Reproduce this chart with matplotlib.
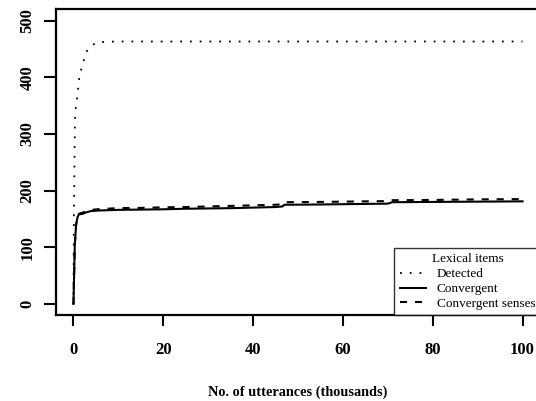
import matplotlib
matplotlib.use("Agg")
import matplotlib.pyplot as plt

plt.rcParams['font.family'] = ['Liberation Serif', 'DejaVu Serif']

# Detected lexical items (x in thousands of utterances)
det_x = [0, 0.05, 0.1, 0.2, 0.33, 0.5, 0.85, 1.3, 2.05, 3.1, 4.0, 5.2, 7, 9.6, 20, 40, 60, 80, 100]
det_y = [0, 90, 160, 230, 325, 345, 366, 400, 424, 448, 456, 461, 462.5, 463, 463, 463, 463, 463, 463]

# Convergent items / convergent senses
conv_x = [0, 0.3, 0.6, 0.9, 1.2, 2, 3, 4, 6, 10, 15, 20, 25, 30, 35, 40, 45, 46.5, 47,
          55, 60, 65, 70, 71, 80, 90, 100]
conv_y = [0, 105, 140, 153, 158, 159, 162, 164, 165, 166, 166.5, 167, 168, 168.5, 169, 170, 171, 172, 175,
          175.5, 176, 176.5, 177, 179.5, 180, 180.5, 181]
senses_y = [0, 105, 141, 154, 159, 161, 164, 166, 167.5, 169, 169.5, 170.5, 171, 172, 173, 174, 175, 176, 179.5,
            180, 180.5, 181, 181.5, 183, 183.5, 184.5, 185]

xticks = [0, 20, 40, 60, 80, 100]
yticks = [0, 100, 200, 300, 400, 500]

fig = plt.figure(figsize=(5.36, 4.01), dpi=100)
ax = fig.add_axes([55.5 / 536, 85.7 / 401, 485 / 536, 306.1 / 401])

ax.plot(det_x, det_y, color='black', lw=1.3, linestyle=(0, (1, 4.4)), label='Detected')
ax.plot(conv_x, conv_y, color='black', lw=1.5, linestyle='-', label='Convergent')
ax.plot(conv_x, senses_y, color='black', lw=1.5, linestyle=(0, (3.4, 3.8)), label='Convergent senses')

ax.set_xlim(-4, 104)
ax.set_ylim(-20, 520)
ax.set_xticks(xticks)
ax.set_yticks(yticks)
ax.set_xticklabels([str(v) for v in xticks], fontweight='bold', fontsize=12)
ax.set_yticklabels([str(v) for v in yticks], fontweight='bold', fontsize=12,
                   rotation=90, va='center')
ax.tick_params(axis='x', length=8, width=1.5, pad=11, color='black')
ax.tick_params(axis='y', length=8.5, width=1.5, pad=6, color='black')
for s in ax.spines.values():
    s.set_linewidth(1.6)

ax.set_xlabel('No. of utterances (thousands)', fontweight='bold', fontsize=10.3, labelpad=20)

leg = ax.legend(loc='lower right', title='Lexical items', fontsize=9.5, title_fontsize=9.5,
                frameon=True, fancybox=False, edgecolor='black', borderaxespad=0,
                handlelength=2.0, handletextpad=0.8, labelspacing=0.2, borderpad=0.4)
leg.get_frame().set_linewidth(1.0)

fig.savefig('out.png', dpi=100)
